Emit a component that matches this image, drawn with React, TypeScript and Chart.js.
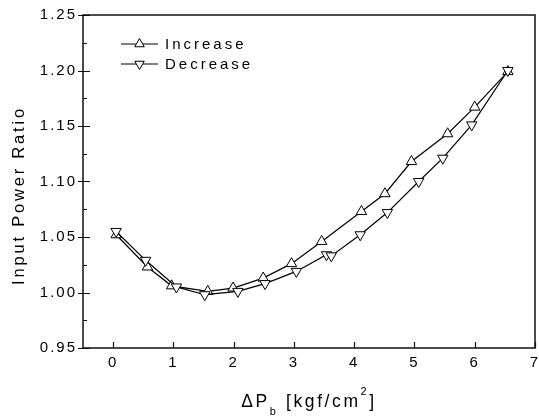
import React, { useEffect, useRef } from 'react';
import { Chart, registerables } from 'chart.js';

Chart.register(...registerables);

// ---- data ----
const incX = [0.05, 0.57, 0.97, 1.57, 1.99, 2.49, 2.96, 3.46, 4.12, 4.51, 4.95, 5.55, 6.0, 6.55];
const incY = [1.052, 1.023, 1.006, 1.001, 1.004, 1.013, 1.026, 1.046, 1.073, 1.089, 1.118, 1.143, 1.167, 1.199];
const decX = [0.05, 0.54, 1.05, 1.52, 2.07, 2.52, 3.04, 3.54, 3.62, 4.1, 4.55, 5.07, 5.47, 5.95, 6.55];
const decY = [1.055, 1.029, 1.005, 0.998, 1.001, 1.008, 1.019, 1.034, 1.033, 1.052, 1.072, 1.1, 1.121, 1.151, 1.2];

const seriesNames = ['Increase', 'Decrease'];
const xTicks = [0, 1, 2, 3, 4, 5, 6, 7];
const yTicks = [0.95, 1.0, 1.05, 1.1, 1.15, 1.2, 1.25];
const yMinorTicks = [0.975, 1.025, 1.075, 1.125, 1.175, 1.225];
const yTitle = 'Input Power Ratio';
const xTitleParts = { main1: '\u0394P', sub: 'b', main2: ' [kgf/cm', sup: '2', main3: ']' };

const FONT = '"Liberation Sans", Arial, sans-serif';

function tri(ctx: CanvasRenderingContext2D, x: number, y: number, r: number, down: boolean) {
  const s = down ? -1 : 1;
  ctx.beginPath();
  ctx.moveTo(x, y - s * r);
  ctx.lineTo(x + Math.sin((2 * Math.PI) / 3) * r, y + s * r * 0.5);
  ctx.lineTo(x - Math.sin((2 * Math.PI) / 3) * r, y + s * r * 0.5);
  ctx.closePath();
  ctx.fillStyle = '#fff';
  ctx.fill();
  ctx.lineWidth = 1;
  ctx.strokeStyle = '#000';
  ctx.stroke();
}

const spacingPlugin = {
  id: 'spacing',
  beforeUpdate(chart: any) {
    (chart.ctx as any).letterSpacing = '2px';
  },
  beforeDraw(chart: any) {
    (chart.ctx as any).letterSpacing = '2px';
  },
};

const framePlugin = {
  id: 'frame',
  afterDraw(chart: any) {
    const ctx: CanvasRenderingContext2D = chart.ctx;
    const { left, right, top, bottom } = chart.chartArea;
    const xs = chart.scales.x;
    const ys = chart.scales.y;
    ctx.save();
    ctx.strokeStyle = '#111';
    ctx.lineWidth = 1.5;
    ctx.strokeRect(left, top, right - left, bottom - top);
    ctx.lineWidth = 1.2;
    ctx.beginPath();
    for (const v of yTicks) {
      const py = Math.round(ys.getPixelForValue(v)) + 0.5;
      ctx.moveTo(left - 5, py);
      ctx.lineTo(left + 7, py);
    }
    for (const v of yMinorTicks) {
      const py = Math.round(ys.getPixelForValue(v)) + 0.5;
      ctx.moveTo(left, py);
      ctx.lineTo(left + 4, py);
    }
    for (const v of xTicks) {
      const px = Math.round(xs.getPixelForValue(v)) + 0.5;
      ctx.moveTo(px, bottom);
      ctx.lineTo(px, bottom - 6);
    }
    ctx.stroke();

    // legend
    const lx = left + 38;
    const rows = [top + 29, top + 49];
    rows.forEach((ly, i) => {
      ctx.beginPath();
      ctx.lineWidth = 1.2;
      ctx.strokeStyle = '#000';
      ctx.moveTo(lx, ly);
      ctx.lineTo(lx + 37, ly);
      ctx.stroke();
      tri(ctx, lx + 18.5, ly, 5.5, i === 1);
      ctx.fillStyle = '#000';
      (ctx as any).letterSpacing = '3px';
      ctx.font = `15px ${FONT}`;
      ctx.textAlign = 'left';
      ctx.textBaseline = 'middle';
      ctx.fillText(seriesNames[i], lx + 44, ly + 1);
    });

    // y title
    ctx.save();
    ctx.translate(19, (top + bottom) / 2 + 14);
    ctx.rotate(-Math.PI / 2);
    (ctx as any).letterSpacing = '2.8px';
    ctx.font = `16.5px ${FONT}`;
    ctx.textAlign = 'center';
    ctx.textBaseline = 'middle';
    ctx.fillStyle = '#000';
    ctx.fillText(yTitle, 0, 0);
    ctx.restore();

    // x title with sub/superscripts
    const big = `17.5px ${FONT}`;
    const small = `11px ${FONT}`;
    (ctx as any).letterSpacing = '2.6px';
    ctx.textAlign = 'left';
    ctx.textBaseline = 'alphabetic';
    ctx.fillStyle = '#000';
    const parts: [string, string, number][] = [
      [xTitleParts.main1, big, 0],
      [xTitleParts.sub, small, 8],
      [xTitleParts.main2, big, 0],
      [xTitleParts.sup, small, -12],
      [xTitleParts.main3, big, 0],
    ];
    let total = 0;
    for (const [t, f] of parts) {
      ctx.font = f;
      total += ctx.measureText(t).width;
    }
    let cx = (left + right) / 2 - total / 2;
    const base = 407;
    for (const [t, f, dy] of parts) {
      ctx.font = f;
      ctx.fillText(t, cx, base + dy);
      cx += ctx.measureText(t).width;
    }
    ctx.restore();
  },
};

export default function App() {
  const ref = useRef<HTMLCanvasElement | null>(null);
  useEffect(() => {
    if (!ref.current) return;
    const chart = new Chart(ref.current, {
      type: 'line',
      data: {
        datasets: [
          {
            label: seriesNames[0],
            data: incX.map((x, i) => ({ x, y: incY[i] })),
            borderColor: '#000',
            borderWidth: 1.2,
            pointStyle: 'triangle',
            pointRadius: 6,
            pointRotation: 0,
            pointBackgroundColor: '#fff',
            pointBorderColor: '#000',
            pointBorderWidth: 1,
            tension: 0,
            fill: false,
            order: 2,
          },
          {
            label: seriesNames[1],
            data: decX.map((x, i) => ({ x, y: decY[i] })),
            borderColor: '#000',
            borderWidth: 1.2,
            pointStyle: 'triangle',
            pointRadius: 6,
            pointRotation: 180,
            pointBackgroundColor: '#fff',
            pointBorderColor: '#000',
            pointBorderWidth: 1,
            tension: 0,
            fill: false,
            order: 1,
          },
        ],
      },
      options: {
        responsive: false,
        animation: false,
        layout: { autoPadding: false, padding: { left: 0, right: 4, top: 15, bottom: 0 } },
        plugins: { legend: { display: false }, tooltip: { enabled: false } },
        scales: {
          x: {
            type: 'linear',
            min: -0.5,
            max: 7,
            grid: { display: false, drawTicks: false },
            border: { display: false },
            afterBuildTicks: (s: any) => {
              s.ticks = xTicks.map((v) => ({ value: v }));
            },
            afterFit: (s: any) => {
              s.height = 71;
              s.paddingLeft = 0;
              s.paddingRight = 0;
            },
            ticks: {
              color: '#000',
              padding: 6,
              maxRotation: 0,
              autoSkip: false,
              font: { family: FONT, size: 15 },
              callback: (v: any) => String(v),
            },
          },
          y: {
            type: 'linear',
            min: 0.95,
            max: 1.25,
            grid: { display: false, drawTicks: false },
            border: { display: false },
            afterBuildTicks: (s: any) => {
              s.ticks = yTicks.map((v) => ({ value: v }));
            },
            afterFit: (s: any) => {
              s.width = 83;
              s.paddingTop = 0;
              s.paddingBottom = 0;
            },
            ticks: {
              color: '#000',
              padding: 6,
              autoSkip: false,
              font: { family: FONT, size: 15 },
              callback: (v: any) => Number(v).toFixed(2),
            },
          },
        },
      },
      plugins: [spacingPlugin, framePlugin],
    });
    return () => chart.destroy();
  }, []);
  return (
    <canvas
      ref={ref}
      width={539}
      height={419}
      style={{ position: 'absolute', left: 0, top: 0, display: 'block', background: '#fff' }}
    />
  );
}
